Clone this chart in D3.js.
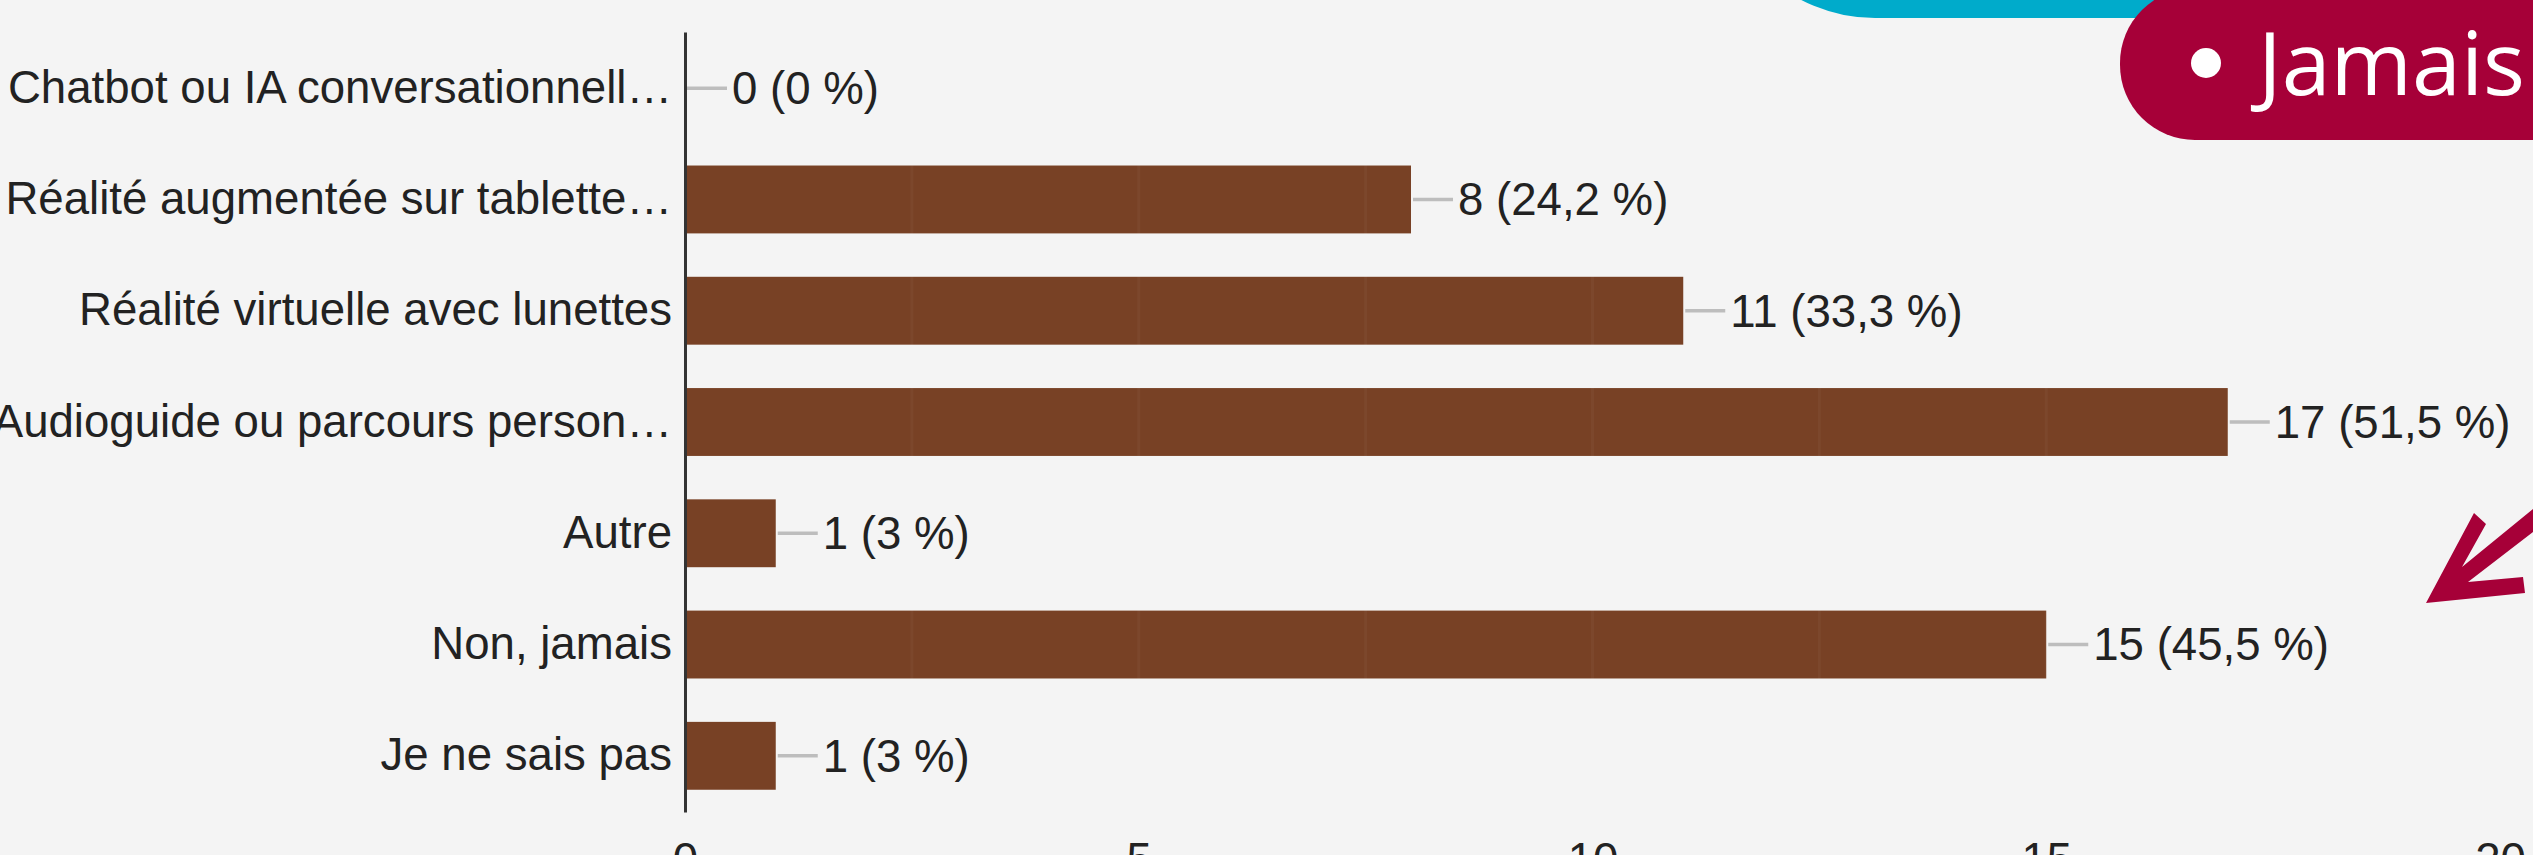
<!DOCTYPE html>
<html>
<head>
<meta charset="utf-8">
<script src="https://cdn.jsdelivr.net/npm/d3@7"></script>
<style>
body { margin: 0; background: #f4f4f4; }
svg { display: block; }
</style>
</head>
<body>
<svg id="chart" width="2533" height="855"></svg>
<script>
// answers (order as shown, top to bottom)
categories = [
	'Chatbot ou IA conversationnell…',
	'Réalité augmentée sur tablette…',
	'Réalité virtuelle avec lunettes',
	'Audioguide ou parcours person…',
	'Autre',
	'Non, jamais',
	'Je ne sais pas'
];
counts = [0, 8, 11, 17, 1, 15, 1];
respondents = 33;
xTicks = [0, 5, 10, 15, 20];
gridTicks = [2.5, 5, 7.5, 10, 12.5, 15, 17.5, 20];
tag = 'Jamais';

let svg = d3.select('#chart');
let font = '"Liberation Sans", Arial, sans-serif';
let fs = 45.6;

svg.append('rect').attr('width', 2533).attr('height', 855).attr('fill', '#f4f4f4');

let x = d3.scaleLinear().domain([0, 20]).range([685, 2500]);
let y = d3.scaleBand().domain(categories).range([32, 812]).paddingInner(0.39).paddingOuter(0.2);

function pct(v){
	let p = (v / respondents * 100).toFixed(1);
	if(p.endsWith('.0')) p = p.slice(0, -2);
	return v + ' (' + p.replace('.', ',') + ' %)';
}

// bars
svg.append('g').selectAll('rect')
	.data(counts)
	.join('rect')
	.attr('x', x(0))
	.attr('y', (d, i) => y(categories[i]))
	.attr('width', d => x(d) - x(0))
	.attr('height', y.bandwidth())
	.attr('fill', '#784125');

// faint grid (barely shows through)
svg.append('g').selectAll('line')
	.data(gridTicks)
	.join('line')
	.attr('x1', d => x(d)).attr('x2', d => x(d))
	.attr('y1', 32).attr('y2', 812)
	.attr('stroke', '#ffffff').attr('stroke-opacity', 0.035).attr('stroke-width', 3);

// leader lines + value labels
let lab = svg.append('g');
counts.forEach(function(v, i){
	let cy = y(categories[i]) + y.bandwidth() / 2;
	let x0 = x(v) + 2;
	lab.append('line')
		.attr('x1', x0).attr('x2', x0 + 40)
		.attr('y1', cy).attr('y2', cy)
		.attr('stroke', '#bdbdbd').attr('stroke-width', 3.5);
	lab.append('text')
		.attr('x', x0 + 45).attr('y', cy).attr('dy', '0.35em')
		.attr('font-family', font).attr('font-size', fs).attr('fill', '#222')
		.text(pct(v));
});

// y axis
let yAxis = svg.append('g')
	.attr('transform', 'translate(' + x(0) + ',0)')
	.call(d3.axisLeft(y).tickSize(0).tickSizeOuter(0).tickPadding(13));
yAxis.select('.domain').attr('stroke', '#333').attr('stroke-width', 3);
yAxis.selectAll('text').attr('font-family', font).attr('font-size', fs).attr('fill', '#222');

// x axis
let xAxis = svg.append('g')
	.attr('transform', 'translate(0,812)')
	.call(d3.axisBottom(x).tickValues(xTicks).tickSize(0).tickPadding(31));
xAxis.select('.domain').remove();
xAxis.selectAll('text').attr('font-family', font).attr('font-size', fs).attr('fill', '#222');

// overlay decorations (top right)
svg.append('rect')
	.attr('x', 1715).attr('y', -400).attr('width', 900).attr('height', 418).attr('rx', 160)
	.attr('fill', '#00abcb');
svg.append('rect')
	.attr('x', 2120).attr('y', -12).attr('width', 500).attr('height', 152).attr('rx', 75)
	.attr('fill', '#a60038');
svg.append('circle').attr('cx', 2206).attr('cy', 63).attr('r', 15).attr('fill', '#fff');
svg.append('text')
	.attr('x', 2258).attr('y', 95)
	.attr('font-family', '"Open Sans", sans-serif').attr('font-size', 88).attr('fill', '#fff')
	.text(tag);

// hand drawn arrow
svg.append('path')
	.attr('d', 'M2426,603 L2474,513 L2486,524 L2462,567 L2533,509 L2533,532 L2468,582 L2523,577 L2525,593 Z')
	.attr('fill', '#a60038');
</script>
</body>
</html>
